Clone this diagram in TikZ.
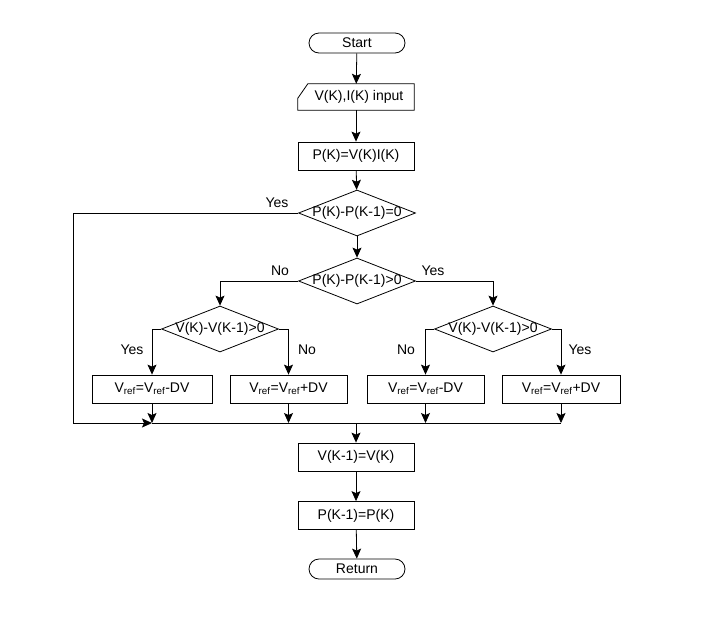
\documentclass[tikz,border=0pt]{standalone}
\usepackage{fontspec}
\setmainfont{Liberation Sans}
\usetikzlibrary{arrows.meta,shapes.geometric}
\begin{document}
\begin{tikzpicture}[x=1pt,y=-1pt,
  font=\fontsize{14}{16}\selectfont,
  base/.style={line width=0.8pt},
  term/.style={base,draw,rectangle,rounded corners=10pt,minimum width=96pt,minimum height=20pt,inner sep=0pt},
  proc/.style={base,draw,rectangle,minimum width=116pt,minimum height=28pt,inner sep=0pt},
  iobox/.style={rectangle,minimum width=116pt,minimum height=26pt,inner sep=0pt},
  dia/.style={base,draw,diamond,minimum width=117pt,minimum height=46pt,inner sep=0pt},
  arr/.style={base,-{Stealth[length=10pt,width=9pt,inset=2pt]}},
  lbl/.style={inner sep=0pt}
]
\useasboundingbox (0,0) rectangle (701,630);
\node[term] (start) at (357,43) {Start};
\node[iobox] (inp) at (356,97) {\hspace*{6pt}V(K),I(K) input};
\draw[base] (inp.south west) -- (inp.south east) -- (inp.north east) -- ([xshift=10pt]inp.north west) -- ([yshift=12pt]inp.south west) -- cycle;
\node[proc] (p1) at (356,156) {P(K)=V(K)I(K)};
\node[dia] (d1) at (357,213) {};
\node[lbl] at (d1.center) {P(K)-P(K-1)=0};
\node[dia] (d2) at (357,281) {};
\node[lbl] at (d2.center) {P(K)-P(K-1)>0};
\node[dia] (d3) at (220,329) {};
\node[lbl] at (d3.center) {V(K)-V(K-1)>0};
\node[dia] (d4) at (493,329) {};
\node[lbl] at (d4.center) {V(K)-V(K-1)>0};
\node[proc,minimum width=120pt] (b1) at (152,389) {V\textsubscript{ref}=V\textsubscript{ref}-DV};
\node[proc,minimum width=117pt] (b2) at (288.5,389) {V\textsubscript{ref}=V\textsubscript{ref}+DV};
\node[proc,minimum width=117pt] (b3) at (425.5,389) {V\textsubscript{ref}=V\textsubscript{ref}-DV};
\node[proc,minimum width=118pt] (b4) at (561,389) {V\textsubscript{ref}=V\textsubscript{ref}+DV};
\node[proc] (p2) at (356,457) {V(K-1)=V(K)};
\node[proc] (p3) at (356,515.5) {P(K-1)=P(K)};
\node[term] (ret) at (357,569) {Return};
\coordinate (c1) at (73,423);
% connectors
\draw[arr] (start) -- (inp);
\draw[arr] (inp) -- (p1);
\draw[arr] (p1) -- (d1);
\draw[arr] (d1) -- (d2);
\draw[arr] (d1.west) -| (c1) -- (b1.south |- c1);
\draw[base] (b1.south |- c1) -- (b4.south |- c1);
\draw[arr] (d2.west) -| (d3.north);
\draw[arr] (d2.east) -| (d4.north);
\draw[arr] (d3.west) -| (b1.north);
\draw[arr] (d3.east) -| (b2.north);
\draw[arr] (d4.west) -| (b3.north);
\draw[arr] (d4.east) -| (b4.north);
\draw[arr] (b1) -- (b1.south |- c1);
\draw[arr] (b2) -- (b2.south |- c1);
\draw[arr] (b3) -- (b3.south |- c1);
\draw[arr] (b4) -- (b4.south |- c1);
\draw[arr] (p2.north |- c1) -- (p2);
\draw[arr] (p2) -- (p3);
\draw[arr] (p3) -- (ret);
% labels
\node[lbl] at (277,203) {Yes};
\node[lbl] at (280,271) {No};
\node[lbl] at (433,271) {Yes};
\node[lbl] at (132,350) {Yes};
\node[lbl] at (307,350) {No};
\node[lbl] at (406,350) {No};
\node[lbl] at (580,350) {Yes};
\end{tikzpicture}
\end{document}
